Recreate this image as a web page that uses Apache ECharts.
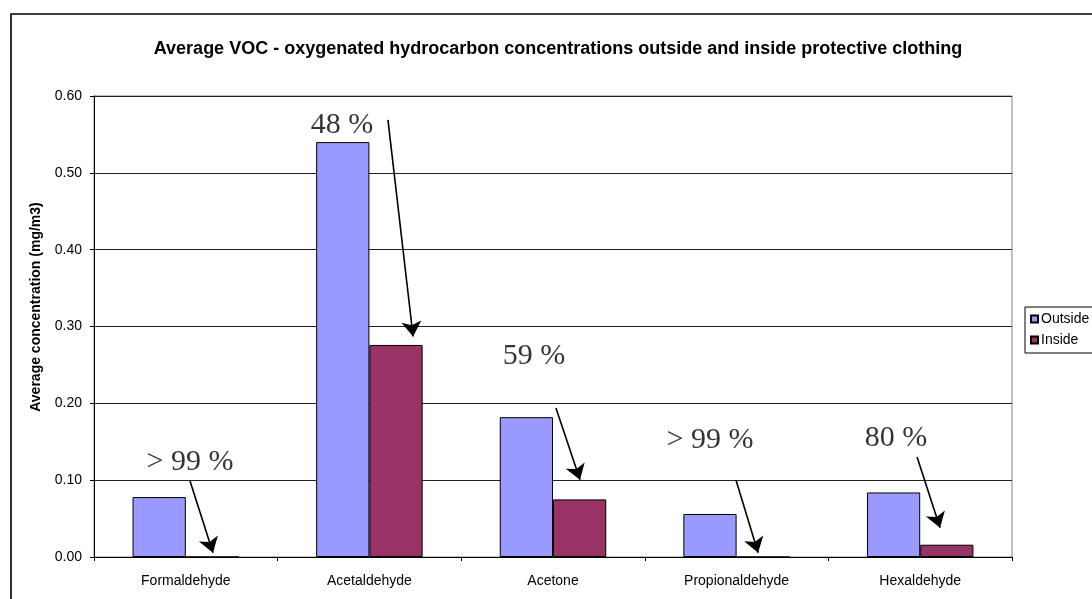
<!DOCTYPE html>
<html>
<head>
<meta charset="utf-8">
<script src="https://cdn.jsdelivr.net/npm/echarts@6/dist/echarts.min.js"></script>
<style>
  html, body { margin: 0; padding: 0; background: #fff; }
  #chart { width: 1092px; height: 599px; }
</style>
</head>
<body>
<div id="chart"></div>
<script>
// Compounds measured and their average concentrations (mg/m3)
const categories = ['Formaldehyde', 'Acetaldehyde', 'Acetone', 'Propionaldehyde', 'Hexaldehyde'];
const outsideValues = [0.078, 0.540, 0.182, 0.056, 0.084];
const insideValues = [0.000, 0.276, 0.075, 0.000, 0.016];

// Reduction callouts: text, anchor, and arrow from/to (category units, mg/m3)
const reductionText = ['> 99 %', '48 %', '59 %', '> 99 %', '80 %'];
const reductionAt = [[0.523, 0.1236], [1.351, 0.562], [2.397, 0.2615], [3.355, 0.152], [4.368, 0.155]];
const arrowFrom = [[0.523, 0.099], [1.601, 0.569], [2.516, 0.194], [3.497, 0.100], [4.483, 0.130]];
const arrowTo = [[0.648, 0.0055], [1.738, 0.287], [2.647, 0.1005], [3.617, 0.0055], [4.608, 0.038]];

const chart = echarts.init(document.getElementById('chart'), null, { renderer: 'canvas' });

const FONT = 'Arial, "Liberation Sans", sans-serif';

chart.setOption({
  animation: false,
  backgroundColor: '#fff',
  title: {
    text: 'Average VOC - oxygenated hydrocarbon concentrations outside and inside protective clothing',
    left: 553,
    textAlign: 'center',
    top: 35,
    textStyle: { fontFamily: FONT, fontWeight: 'bold', fontSize: 18, color: '#000' }
  },
  legend: {
    orient: 'vertical',
    left: 1025,
    top: 307,
    itemWidth: 7,
    itemHeight: 7,
    itemGap: 7,
    padding: [5, 40, 6, 5],
    borderColor: '#000',
    borderWidth: 1,
    icon: 'rect',
    data: ['Outside', 'Inside'],
    textStyle: { fontFamily: FONT, fontSize: 14, color: '#000', padding: [0, 0, 0, -2] }
  },
  grid: {
    left: 94, right: 80, top: 96, bottom: 42,
    show: true,
    borderColor: '#808080',
    borderWidth: 1,
    backgroundColor: 'transparent'
  },
  xAxis: [{
    type: 'category',
    data: categories,
    axisLine: { lineStyle: { color: '#000', width: 1 } },
    axisTick: { show: true, inside: false, length: 4, lineStyle: { color: '#000' } },
    axisLabel: { fontFamily: FONT, fontSize: 14, color: '#000', margin: 17 },
    splitLine: { show: false }
  }, {
    // helper axis in category units for placing the callouts
    type: 'value',
    min: 0, max: 5,
    show: false
  }],
  yAxis: {
    type: 'value',
    min: 0, max: 0.6, interval: 0.1,
    axisLine: { show: true, lineStyle: { color: '#000', width: 1 } },
    axisTick: { show: true, inside: false, length: 4, lineStyle: { color: '#000' } },
    axisLabel: {
      fontFamily: FONT, fontSize: 14, color: '#000', margin: 12,
      formatter: v => v.toFixed(2)
    },
    splitLine: { show: true, lineStyle: { color: '#222', width: 1 } }
  },
  graphic: [
    {
      type: 'rect',
      shape: { x: 11, y: 14, width: 1200, height: 700 },
      style: { fill: 'none', stroke: '#000', lineWidth: 1.6 },
      silent: true, z: 100
    },
    {
      type: 'text',
      x: 36, y: 307,
      rotation: Math.PI / 2,
      style: {
        text: 'Average concentration (mg/m3)',
        font: 'bold 14px ' + FONT,
        fill: '#000',
        align: 'center',
        verticalAlign: 'middle'
      }
    }
  ],
  series: [
    {
      name: 'Outside',
      type: 'bar',
      data: outsideValues,
      barGap: '0%',
      barCategoryGap: '42%',
      itemStyle: { color: '#9999FF', borderColor: '#000', borderWidth: 1 }
    },
    {
      name: 'Inside',
      type: 'bar',
      data: insideValues,
      itemStyle: { color: '#993366', borderColor: '#000', borderWidth: 1 }
    },
    {
      name: 'arrows',
      type: 'lines',
      coordinateSystem: 'cartesian2d',
      xAxisIndex: 1,
      yAxisIndex: 0,
      symbol: ['none', 'arrow'],
      symbolSize: [15, 15],
      lineStyle: { color: '#000', width: 1.6, opacity: 1 },
      data: arrowFrom.map((f, i) => ({ coords: [f, arrowTo[i]] })),
      z: 10
    },
    {
      name: 'reduction',
      type: 'scatter',
      xAxisIndex: 1,
      yAxisIndex: 0,
      symbolSize: 0,
      data: reductionAt.map((p, i) => ({ value: p, name: reductionText[i] })),
      label: {
        show: true,
        position: 'inside',
        formatter: p => p.name,
        fontFamily: '"Liberation Serif", "Times New Roman", serif',
        fontSize: 30,
        color: '#000'
      },
      z: 10
    }
  ]
});
</script>
</body>
</html>
